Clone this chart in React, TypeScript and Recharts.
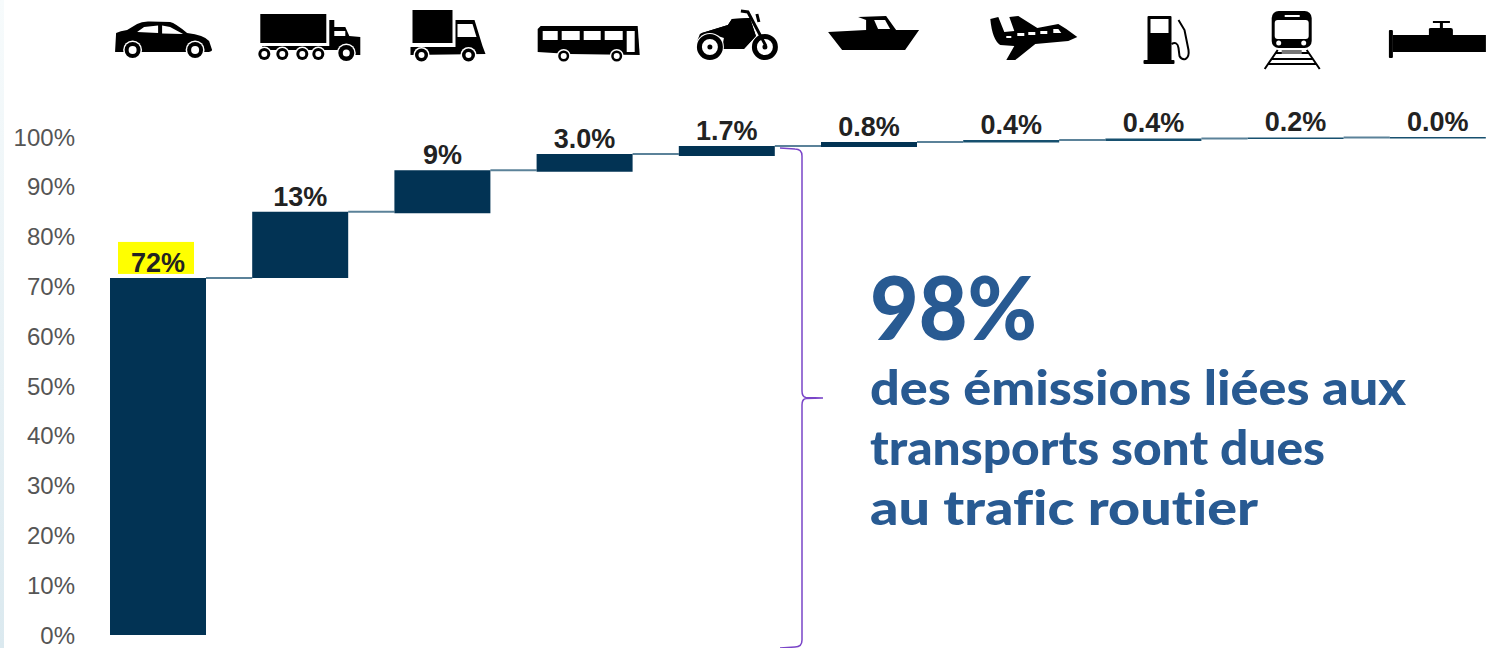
import React from "react";
import { ComposedChart, Bar, XAxis, YAxis, LabelList, Rectangle } from "recharts";

const categories = ["Voiture", "Poids lourd", "Utilitaire", "Bus", "Moto", "Bateau", "Avion", "Carburant", "Train", "Pipeline"];
const baseValues = [0, 71.7, 84.7, 93, 96.2, 98, 98.9, 99.2, 99.6, 99.7];
const barValues = [71.7, 13.3, 8.6, 3.6, 2, 1, 0.5, 0.5, 0.3, 0.3];
const valueLabels = ["72%", "13%", "9%", "3.0%", "1.7%", "0.8%", "0.4%", "0.4%", "0.2%", "0.0%"];
const yTicks = [0, 10, 20, 30, 40, 50, 60, 70, 80, 90, 100];
const calloutLines = ["des émissions liées aux", "transports sont dues", "au trafic routier"];
const calloutWidths = [536, 455, 388];

const tableRows = categories.map((name, i) => ({
  name,
  base: baseValues[i],
  value: barValues[i],
  label: valueLabels[i],
}));

const BAR_WIDTH = 96;
const CONNECTOR_LENGTH = 46.2;

const Wheel = ({ x, y, r, hole }: any) => (
  <g>
    <circle cx={x} cy={y} r={r + 1.5} fill="#fff" />
    <circle cx={x} cy={y} r={r} fill="#000" />
    <circle cx={x} cy={y} r={hole} fill="#fff" />
  </g>
);

const icons: Record<string, { ref: number; node: React.ReactNode }> = {
  Voiture: {
    ref: 158,
    node: (
      <g>
        <path d="M115 51 L116 33 Q120 31 127 30 L137 24 Q142 21 150 21.5 L170 22 Q175 23 187 33 Q204 35 209 41 L212 50 Q211 52 207 52 L115 52 Z" fill="#000" />
        <path d="M137 32 L144 27 L158 25.5 L158 33 Z M162 25.5 L170 27 L183 34 L162 33.5 Z" fill="#fff" />
        <Wheel x={132.5} y={50} r={8} hole={4} />
        <Wheel x={195} y={50} r={8} hole={4} />
      </g>
    ),
  },
  "Poids lourd": {
    ref: 300,
    node: (
      <g>
        <rect x={260} y={14} width={66} height={29} fill="#000" />
        <path d="M329 20 L334 20 L334 27 L345 27 L349 36 L360 37 L360 55 L340 55 L340 50 L262 50 L262 46 L329 46 Z" fill="#000" />
        <rect x={334} y={31} width={11} height={5} fill="#fff" />
        <Wheel x={264} y={54} r={6} hole={3} />
        <Wheel x={282} y={54} r={6} hole={3} />
        <Wheel x={302} y={54} r={6} hole={3} />
        <Wheel x={318} y={54} r={6} hole={3} />
        <Wheel x={346} y={53} r={8} hole={3.5} />
      </g>
    ),
  },
  Utilitaire: {
    ref: 442,
    node: (
      <g>
        <rect x={412} y={10} width={40} height={33} fill="#000" />
        <path d="M455 20 L474 20 L482 46 L485 54 L410 55 L410 47 L455 47 Z" fill="#000" />
        <path d="M457 24 L472 24 L476 37 L457 37 Z" fill="#fff" />
        <Wheel x={421} y={55} r={6.5} hole={3} />
        <Wheel x={468} y={55} r={6.5} hole={3} />
      </g>
    ),
  },
  Bus: {
    ref: 585,
    node: (
      <g>
        <path d="M541 26 L638 26 L640 55 L570 54 L538 52 L538 29 Z" fill="#000" />
        <path d="M543 31 H558 V40 H543 Z M562 31 H580 V40 H562 Z M584 31 H601 V40 H584 Z M605 31 H623 V40 H605 Z M627 31 H635 V52 H627 Z" fill="#fff" />
        <Wheel x={564} y={56} r={5.5} hole={3} />
        <Wheel x={617} y={56} r={5.5} hole={3} />
      </g>
    ),
  },
  Moto: {
    ref: 727,
    node: (
      <g>
        <path d="M702 33 L728 25 L732 19 L750 18 L756 36 L744 49 L722 49 L724 38 L712 34 Q698 36 697 42 L700 34 Z" fill="#000" />
        <circle cx={710} cy={47} r={14} fill="#fff" />
        <path d="M697 40 Q702 30 716 32 Q724 34 726 40 L726 49 L744 49 L756 36 L750 18 L732 19 L728 25 L702 33 Z" fill="#000" />
        <circle cx={710} cy={47} r={10.5} fill="none" stroke="#000" strokeWidth={5} />
        <circle cx={765} cy={47} r={10.5} fill="none" stroke="#000" strokeWidth={5} />
        <circle cx={710} cy={47} r={2.5} fill="#000" />
        <circle cx={765} cy={47} r={2.5} fill="#000" />
        <path d="M741 11 L748 12 L766 46 M757 14 L759 22" fill="none" stroke="#000" strokeWidth={3} />
      </g>
    ),
  },
  Bateau: {
    ref: 869,
    node: (
      <g>
        <path d="M828 32 L866 30 L866 20 L858 17 L886 16 L896 30 L919 30 L905 50 L842 50 Z" fill="#000" />
        <path d="M874 20 L885 20 L890 29 L878 29 Z" fill="#fff" />
      </g>
    ),
  },
  Avion: {
    ref: 1011,
    node: (
      <g>
        <path d="M990 19 L998 17 L1004 32 L1014 31 L1009 17 L1018 16 L1037 28 L1058 24 L1066 29 L1077 37 L1068 41 L1035 44 L1015 60 L1006 60 L1014 46 L1000 45 Q992 40 990 19 Z" fill="#000" />
        <path d="M1006 36 h5 v2 h-5 Z M1017 33 h7 v3 h-7 Z M1028 32 h7 v3 h-7 Z M1040 31 h7 v3 h-7 Z M1053 29 l5 0 l3 4 l-8 0 Z" fill="#fff" />
      </g>
    ),
  },
  Carburant: {
    ref: 1153,
    node: (
      <g>
        <rect x={1147} y={16} width={24} height={45} rx={1} fill="#000" />
        <rect x={1143} y={60} width={31} height={4} rx={1} fill="#000" />
        <rect x={1150} y={19} width={18} height={14} fill="#fff" />
        <path d="M1171 44 Q1177 41 1178 48 L1179 56 Q1181 60 1185 59 Q1189 57 1188 50 L1184 30 L1178 20" fill="none" stroke="#000" strokeWidth={2} />
      </g>
    ),
  },
  Train: {
    ref: 1296,
    node: (
      <g>
        <rect x={1272} y={11} width={40} height={37} rx={7} fill="#000" />
        <rect x={1275} y={20} width={34} height={19} rx={3} fill="#fff" />
        <rect x={1285} y={15} width={15} height={2} fill="#fff" />
        <circle cx={1279} cy={43} r={2.5} fill="#fff" />
        <circle cx={1304} cy={43} r={2.5} fill="#fff" />
        <path d="M1278 50 L1265 69 M1307 50 L1320 69 M1276 53 H1309 M1272 59 H1313 M1268 64 H1317" stroke="#000" strokeWidth={2} fill="none" />
        <rect x={1282} y={50} width={20} height={4} fill="#777" />
      </g>
    ),
  },
  Pipeline: {
    ref: 1438,
    node: (
      <g>
        <rect x={1389} y={30} width={4} height={28} rx={1} fill="#000" />
        <rect x={1393} y={35} width={93} height={17} fill="#000" />
        <path d="M1429 35 V29 Q1429 28 1431 28 H1451 Q1453 28 1453 30 V35 Z" fill="#000" />
        <rect x={1440} y={21} width={3} height={8} fill="#000" />
        <rect x={1433} y={21} width={17} height={2} fill="#000" />
      </g>
    ),
  },
};

const IconTick = ({ x, payload }: any) => {
  const icon = icons[payload.value];
  if (!icon) return null;
  return <g transform={`translate(${x - icon.ref},0)`}>{icon.node}</g>;
};

const ValueLabel = ({ x, y, width, value }: any) => {
  const cx = x + width / 2;
  const isFirst = value === valueLabels[0];
  return (
    <g>
      {isFirst && <rect x={cx - 40} y={y - 36} width={76} height={32} fill="#ffff00" />}
      <text
        x={cx}
        y={y - 6}
        textAnchor="middle"
        fontFamily="'Liberation Sans', Arial, sans-serif"
        fontWeight={700}
        fontSize={27}
        fill="#222"
      >
        {value}
      </text>
    </g>
  );
};

const StepBar = (props: any) => {
  const { x, y, width, height, index } = props;
  const isLast = index === categories.length - 1;
  return (
    <g>
      {!isLast && (
        <line x1={x + width} x2={x + width + CONNECTOR_LENGTH} y1={y} y2={y} stroke="#5b8299" strokeWidth={2} />
      )}
      <Rectangle x={x} y={y} width={width} height={height} fill={height < 3 ? "#17506f" : "#023354"} />
    </g>
  );
};

export default function App() {
  return (
    <div style={{ position: "absolute", left: 0, top: 0, width: 1486, height: 648, overflow: "hidden", background: "#fff" }}>
      <ComposedChart
        width={1509}
        height={648}
        data={tableRows}
        margin={{ top: 0, right: 0, bottom: 13, left: 0 }}
      >
        <defs>
          <linearGradient id="edgeStrip" x1="0" y1="0" x2="0" y2="1">
            <stop offset="0" stopColor="#f7fbfc" />
            <stop offset="1" stopColor="#dbe9ef" />
          </linearGradient>
        </defs>
        <rect x={0} y={0} width={4} height={648} fill="url(#edgeStrip)" />
        <XAxis
          dataKey="name"
          orientation="top"
          xAxisId={0}
          height={137}
          axisLine={false}
          tickLine={false}
          interval={0}
          tick={<IconTick />}
        />
        <YAxis
          width={87}
          domain={[0, 100]}
          ticks={yTicks}
          interval={0}
          axisLine={false}
          tickLine={false}
          tickMargin={6}
          tickFormatter={(v: number) => `${v}%`}
          tick={{ fontFamily: "'Liberation Sans', Arial, sans-serif", fontSize: 24, fill: "#555" }}
        />
        <Bar dataKey="base" stackId="a" fill="transparent" barSize={BAR_WIDTH} isAnimationActive={false} />
        <Bar dataKey="value" stackId="a" fill="#023354" barSize={BAR_WIDTH} shape={<StepBar />} isAnimationActive={false}>
          <LabelList dataKey="label" content={<ValueLabel />} />
        </Bar>
        <path
          d="M780 148 L795 149 Q802 149 802 156 L802 391 Q802 397 806 397.5 L823 398 L806 398.5 Q802 399 802 405 L802 640 Q802 647 795 647 L780 648"
          fill="none"
          stroke="#7a45c8"
          strokeWidth={1.5}
        />
        <text x={870} y={340} textLength={167} lengthAdjust="spacingAndGlyphs" fontFamily="Lato, sans-serif" fontWeight={900} fontSize={88} fill="#285a92">
          98%
        </text>
        {calloutLines.map((line, i) => (
          <text
            key={line}
            x={870}
            y={405 + i * 60}
            textLength={calloutWidths[i]}
            lengthAdjust="spacingAndGlyphs"
            fontFamily="Lato, sans-serif"
            fontWeight={900}
            fontSize={47}
            fill="#285a92"
            style={{ fontVariantLigatures: "none" }}
          >
            {line}
          </text>
        ))}
      </ComposedChart>
    </div>
  );
}
